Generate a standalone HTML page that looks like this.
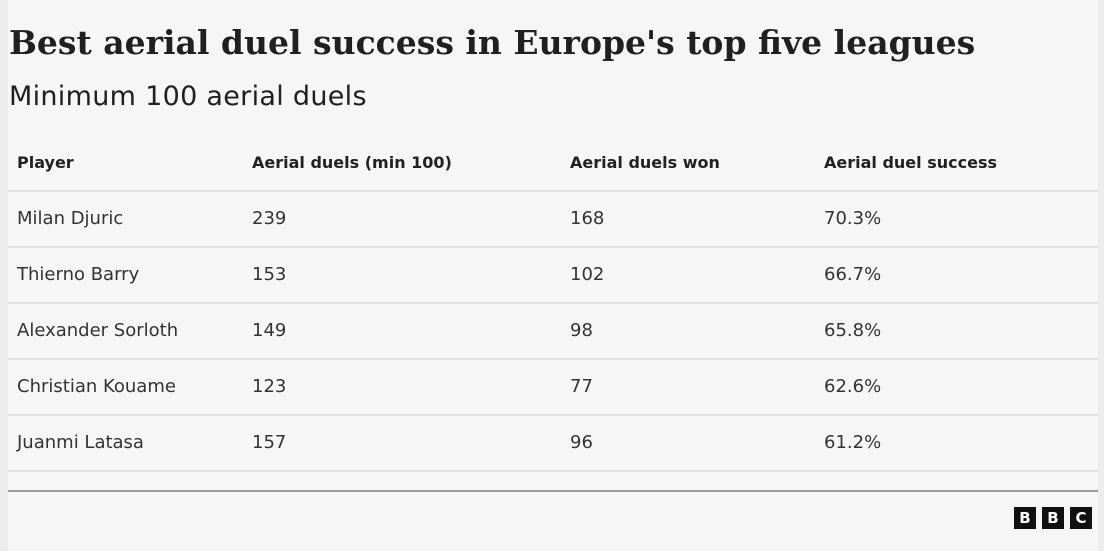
<!DOCTYPE html>
<html><head><meta charset="utf-8"><style>
body{margin:0;width:1104px;height:551px;background:#ececec;overflow:hidden;font-family:"DejaVu Sans","Liberation Sans",sans-serif;color:#222}
#card{position:absolute;left:8px;top:0;width:1090px;height:551px;background:#f6f6f6}
h1{position:absolute;left:1px;top:23px;margin:0;font-family:"DejaVu Serif","Liberation Serif",serif;font-weight:bold;font-size:33px;color:#202020;letter-spacing:0px}
h2{position:absolute;left:1px;top:81px;margin:0;font-weight:normal;font-size:27px;color:#202020;letter-spacing:0.3px}
.row{position:absolute;left:0;width:1090px;height:54px;border-bottom:2px solid #e3e3e3;font-size:18px;color:#333}
.row span{position:absolute;top:16px}
.hd{font-weight:bold;color:#222;font-size:16px}
#rule{position:absolute;left:0;top:490px;width:1090px;height:2px;background:#9a9a9a}
.b{position:absolute;top:507px;width:22px;height:22px;background:#111;color:#fff;font-weight:bold;font-size:15px;text-align:center;line-height:22px}
</style></head><body>
<div id="card">
<h1>Best aerial duel success in Europe's top five leagues</h1>
<h2>Minimum 100 aerial duels</h2>
<div class="row hd" style="top:136px"><span style="left:9px;top:17px">Player</span><span style="left:244px;top:17px">Aerial duels (min 100)</span><span style="left:562px;top:17px">Aerial duels won</span><span style="left:816px;top:17px">Aerial duel success</span></div>
<div id="rows"></div>
<div id="rule"></div>
<div class="b" style="left:1006px">B</div>
<div class="b" style="left:1034px">B</div>
<div class="b" style="left:1062px">C</div>
</div>
<script>
const players=["Milan Djuric","Thierno Barry","Alexander Sorloth","Christian Kouame","Juanmi Latasa"];
const duels=[239,153,149,123,157];
const won=[168,102,98,77,96];
const success=["70.3%","66.7%","65.8%","62.6%","61.2%"];
const c=document.getElementById('rows');
players.forEach((p,i)=>{
 const r=document.createElement('div');r.className='row';r.style.top=(192+i*56)+'px';
 
 
 [[9,p],[244,duels[i]],[562,won[i]],[816,success[i]]].forEach(([x,t])=>{const s=document.createElement('span');s.style.left=x+'px';s.textContent=t;
 
 
 r.appendChild(s);});
 c.appendChild(r);
});
</script>
</body></html>
